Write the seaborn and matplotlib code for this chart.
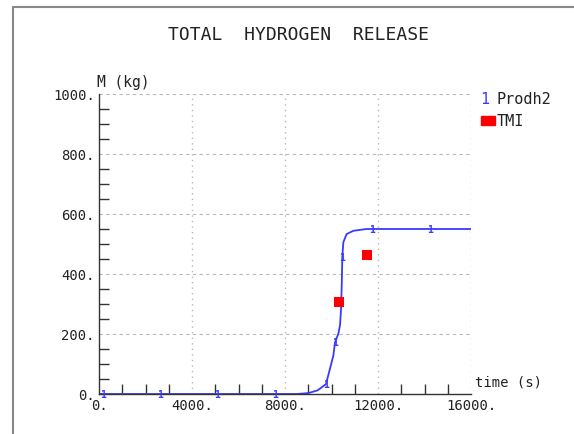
import matplotlib
matplotlib.use("Agg")
import matplotlib.pyplot as plt
import seaborn as sns
import pandas as pd
import numpy as np
from matplotlib.lines import Line2D
from matplotlib.patches import Rectangle
from matplotlib.ticker import MultipleLocator

# ---- data ----
time_s = [0, 8500, 9000, 9400, 9763, 10080, 10150, 10290, 10365, 10410, 10440,
          10465, 10510, 10650, 10940, 11510, 16000]
prodh2_kg = [0, 0, 3, 12, 33, 128, 172, 200, 228, 283, 361,
             457, 506, 533, 544, 550, 550]
label_time = [160, 2620, 5060, 7570, 9763, 10150, 10465, 11740, 14236]
tmi_time = [10335, 11540]
tmi_kg = [306, 464]
x_ticks = [0, 4000, 8000, 12000, 16000]
x_tick_labels = ["0.", "4000.", "8000.", "12000.", "16000."]
y_ticks = [0, 200, 400, 600, 800, 1000]
y_tick_labels = ["0.", "200.", "400.", "600.", "800.", "1000."]

sns.set_style("white")
plt.rcParams["font.family"] = ["DejaVu Sans Mono", "DejaVu Sans"]

fig = plt.figure(figsize=(5.74, 4.35), dpi=100)
ax = fig.add_axes([99/574, 1-395/435, (471-99)/574, (395-95)/435])

blue = "#3a3aff"
df = pd.DataFrame({"t": time_s, "m": prodh2_kg})
sns.lineplot(data=df, x="t", y="m", ax=ax, color=blue, linewidth=1.3)
df2 = pd.DataFrame({"t": tmi_time, "m": tmi_kg})
sns.scatterplot(data=df2, x="t", y="m", ax=ax, color="#ff0000", marker="s",
                s=50, edgecolor="none", zorder=5)

# curve labels "1"
for t in label_time:
    m = np.interp(t, time_s, prodh2_kg)
    ax.text(t, m, "1", color=blue, fontsize=7, ha="center", va="center",
            fontweight="bold", zorder=4)

ax.set_xlim(0, 16000)
ax.set_ylim(0, 1000)
ax.set_xticks(x_ticks)
ax.set_xticklabels(x_tick_labels, fontsize=10)
ax.set_yticks(y_ticks)
ax.set_yticklabels(y_tick_labels, fontsize=10)
ax.xaxis.set_minor_locator(MultipleLocator(1000))
ax.yaxis.set_minor_locator(MultipleLocator(50))
ax.tick_params(which="major", length=0, pad=3, colors="#222222",
               left=True, bottom=True)
ax.tick_params(which="minor", direction="in", length=7, width=1, color="#333333",
               left=True, bottom=True, top=False, right=False)
ax.set_xlabel("")
ax.set_ylabel("")

for s in ["top", "right"]:
    ax.spines[s].set_visible(False)
for s in ["left", "bottom"]:
    ax.spines[s].set_color("#333333")
    ax.spines[s].set_linewidth(1.0)

for y in y_ticks[1:]:
    ax.axhline(y, color="#b8b8b8", linestyle=(0, (3, 3)), linewidth=0.8, zorder=0)
for x in x_ticks[1:]:
    ax.axvline(x, color="#b8b8b8", linestyle=(0, (1, 3)), linewidth=1.0, zorder=0)

fig.text(298/574, 1-35/435, "TOTAL  HYDROGEN  RELEASE", ha="center", va="center",
         fontsize=13, color="#222222")
fig.text(97/574, 1-83/435, "M (kg)", ha="left", va="center", fontsize=10.5,
         color="#222222")
fig.text(475/574, 1-383/435, "time (s)", ha="left", va="center", fontsize=10,
         color="#222222")

# legend
fig.text(485/574, 1-100/435, "1", ha="center", va="center", fontsize=11, color=blue)
fig.text(497/574, 1-100/435, "Prodh2", ha="left", va="center", fontsize=11,
         color="#222222")
fig.patches.append(Rectangle((481/574, 1-126/435), 14/574, 9/435,
                             transform=fig.transFigure, color="#ff0000"))
fig.text(497/574, 1-121/435, "TMI", ha="left", va="center", fontsize=11,
         color="#222222")

# frame
fig.add_artist(Line2D([13/574, 13/574], [0, 1-8/435], transform=fig.transFigure,
                      color="#888888", linewidth=1.5))
fig.add_artist(Line2D([13/574, 1], [1-8/435, 1-8/435], transform=fig.transFigure,
                      color="#888888", linewidth=1.5))

fig.savefig("out.png", dpi=100)
